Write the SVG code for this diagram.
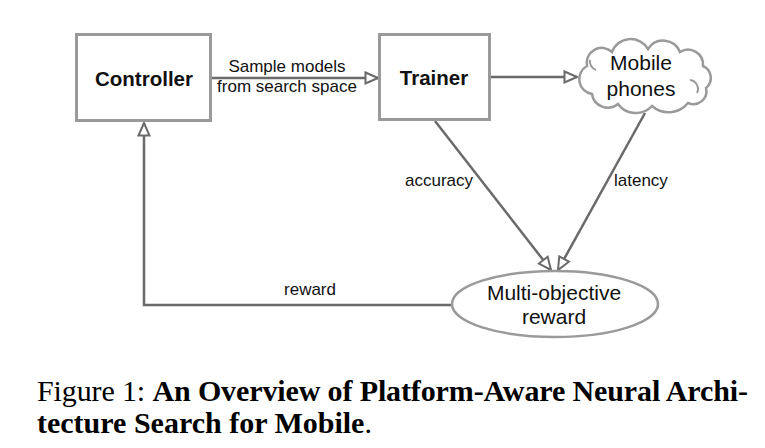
<svg xmlns="http://www.w3.org/2000/svg" width="765" height="448" viewBox="0 0 765 448">
  <style>
    .box { fill: #fff; stroke: #9a9a9a; stroke-width: 3; }
    .shape { fill: #fff; stroke: #9a9a9a; stroke-width: 2.5; }
    .edge { fill: none; stroke: #6a6a6a; stroke-width: 2.5; marker-end: url(#open); }
    .title { font-family: "Liberation Sans", Arial, sans-serif; font-weight: bold; font-size: 20.5px; fill: #111; text-anchor: middle; }
    .lbl { font-family: "Liberation Sans", Arial, sans-serif; font-size: 17px; fill: #111; }
    .big { font-family: "Liberation Sans", Arial, sans-serif; font-size: 21px; fill: #111; text-anchor: middle; }
    .cap { font-family: "Liberation Serif", "Times New Roman", serif; font-size: 30px; fill: #000; }
  </style>
  <defs>
    <marker id="open" markerUnits="userSpaceOnUse" markerWidth="16" markerHeight="14" refX="14" refY="7" orient="auto">
      <path d="M1.5,1.5 L14,7 L1.5,12.5 Z" fill="#fff" stroke="#6a6a6a" stroke-width="2"/>
    </marker>
  </defs>

  <!-- connectors -->
  <g id="connectors">
    <line class="edge" x1="211" y1="78" x2="378" y2="78"/>
    <line class="edge" x1="490" y1="77" x2="577" y2="77"/>
    <line class="edge" x1="435" y1="121" x2="551" y2="270"/>
    <line class="edge" x1="645" y1="113" x2="558" y2="270"/>
    <polyline class="edge" points="452,305 144,305 144,123"/>
    <text class="lbl" x="287" y="72" text-anchor="middle">Sample models</text>
    <text class="lbl" x="287" y="92" text-anchor="middle">from search space</text>
    <text class="lbl" x="473" y="186" text-anchor="end">accuracy</text>
    <text class="lbl" x="614" y="186">latency</text>
    <text class="lbl" x="310" y="295" text-anchor="middle">reward</text>
  </g>

  <g id="controller">
    <rect class="box" x="76.5" y="34.5" width="134" height="86"/>
    <text class="title" x="144" y="86">Controller</text>
  </g>

  <g id="trainer">
    <rect class="box" x="379.5" y="34.5" width="110" height="85"/>
    <text class="title" x="434" y="85">Trainer</text>
  </g>

  <g id="mobile-phones">
    <path class="shape" d="M587,66 A15,15 0 0 1 612,52 A20,20 0 0 1 648,49 A18,18 0 0 1 680,52 A15,15 0 0 1 703,66 A13,13 0 0 1 706,88 A13,13 0 0 1 688,103 A25,25 0 0 1 652,106 A22,22 0 0 1 618,104 A16,16 0 0 1 592,94 A15,15 0 0 1 587,66 Z"/>
    <path d="M690,80 A9,9 0 0 1 697,93 M596,70 A9,9 0 0 1 590,60" fill="none" stroke="#9a9a9a" stroke-width="2"/>
    <text class="big" x="641" y="70">Mobile</text>
    <text class="big" x="641" y="96">phones</text>
  </g>

  <g id="multi-objective-reward">
    <ellipse class="shape" cx="555" cy="304" rx="103" ry="33"/>
    <text class="big" x="554" y="300">Multi-objective</text>
    <text class="big" x="554" y="324">reward</text>
  </g>

  <g id="caption">
    <text class="cap" x="37" y="401" textLength="711" lengthAdjust="spacing">Figure 1: <tspan font-weight="bold">An Overview of Platform-Aware Neural Archi-</tspan></text>
    <text class="cap" x="37" y="433"><tspan font-weight="bold">tecture Search for Mobile</tspan>.</text>
  </g>
</svg>
